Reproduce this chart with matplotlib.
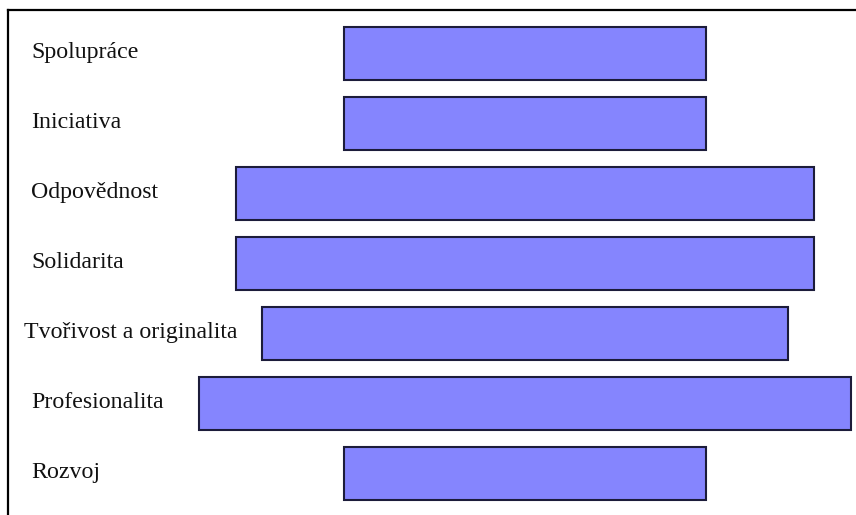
import matplotlib
matplotlib.use("Agg")
import matplotlib.pyplot as plt

# hodnoty (relativní délka pruhu)
kategorie = ["Spolupráce", "Iniciativa", "Odpovědnost", "Solidarita",
             "Tvořivost a originalita", "Profesionalita", "Rozvoj"]
hodnoty = [55.5, 55.5, 88.8, 88.8, 80.8, 100.0, 55.5]

plt.rcParams['font.family'] = ['Liberation Serif', 'DejaVu Serif']

fig = plt.figure(figsize=(8.56, 5.15), dpi=100)
ax = fig.add_axes([8 / 856, -0.02, 848 / 856, 505 / 515 + 0.02])

y = list(range(len(kategorie)))
left = [-v / 2 for v in hodnoty]
ax.barh(y, hodnoty, left=left, height=0.757, color="#8585fe",
        edgecolor="#1c1c3a", linewidth=1.5)

for i, nazev in enumerate(kategorie):
    x0 = 0.019 if i == 4 else 0.027
    ax.text(x0, i - 0.02, nazev, transform=ax.get_yaxis_transform(),
            ha="left", va="center", fontsize=17.2, color="#111111")

ax.set_xlim(-79.4, 50.8)
ax.set_ylim(6.74, -0.621)
ax.set_xticks([])
ax.set_yticks([])
ax.spines["right"].set_visible(False)
ax.spines["bottom"].set_visible(False)
ax.spines["left"].set_linewidth(1.6)
ax.spines["top"].set_linewidth(1.6)

fig.savefig("out.png", dpi=100)
